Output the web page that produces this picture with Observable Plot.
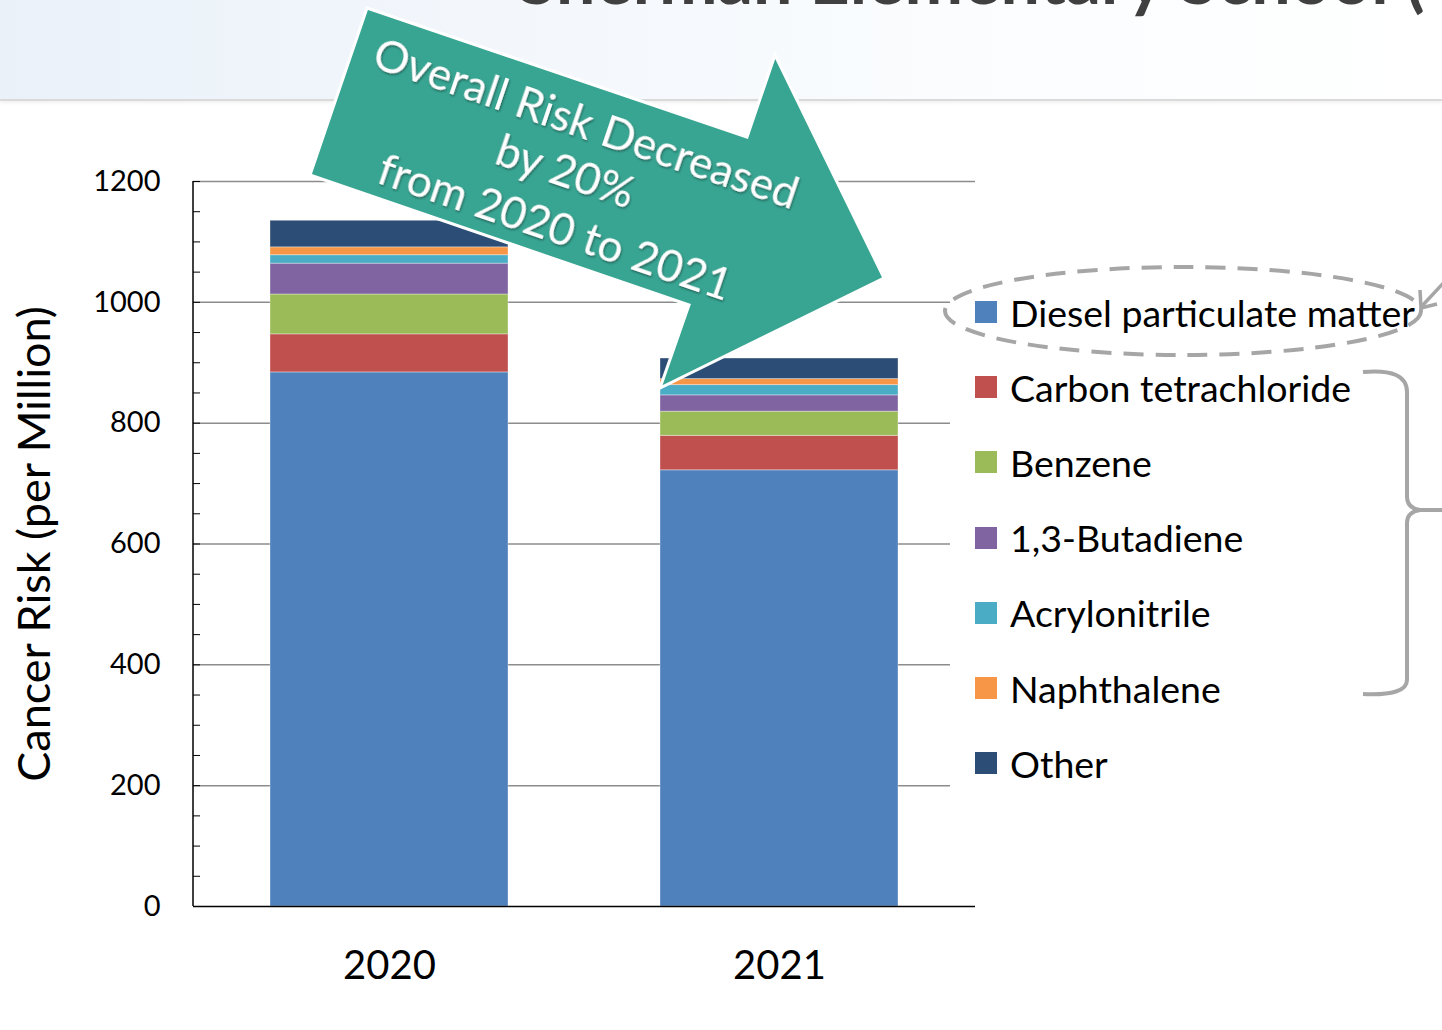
<!DOCTYPE html>
<html>
<head>
<meta charset="utf-8">
<script src="https://cdn.jsdelivr.net/npm/d3@7"></script>
<script src="https://cdn.jsdelivr.net/npm/@observablehq/plot@0.6"></script>
<style>
  html, body { margin: 0; padding: 0; background: #fff; }
  body { width: 1442px; height: 1030px; position: relative; overflow: hidden; font-family: Lato, "Open Sans", sans-serif; }
  #header { position: absolute; left: 0; top: 0; width: 1442px; height: 99px;
    background: linear-gradient(to right, #EAF1F9 0%, #F3F7FC 35%, #FBFDFE 70%, #FFFFFF 100%);
    border-bottom: 2px solid #DADADA; box-shadow: 0 2px 3px rgba(0,0,0,0.06); z-index: 0; }
  #chart { position: absolute; left: 0; top: 100px; z-index: 1; }
  #legend { position: absolute; left: 950px; top: 268px; width: 470px; height: 530px; background: #fff; z-index: 2; }
  .item { position: absolute; left: 25px; height: 40px; display: flex; align-items: center; }
  .sw { width: 22px; height: 22px; margin-right: 13px; flex: none; }
  .lab { font-family: Lato, sans-serif; font-size: 37.5px; color: #000; white-space: nowrap; }
  #overlay { position: absolute; left: 0; top: 0; z-index: 3; pointer-events: none; }
</style>
</head>
<body>
<div id="header"></div>
<div id="chart"></div>
<div id="legend"></div>
<svg id="overlay" width="1442" height="1030"></svg>
<script>
// ---- data ----
const years = ["2020", "2021"];
const pollutants = ["Diesel particulate matter", "Carbon tetrachloride", "Benzene", "1,3-Butadiene", "Acrylonitrile", "Naphthalene", "Other"];
const colors = ["#4F81BD", "#C0504D", "#9BBB59", "#8064A2", "#4BACC6", "#F79646", "#2C4D75"];
const diesel = [884, 722];
const carbonTet = [63, 57];
const benzene = [66, 40];
const butadiene = [51, 27];
const acrylonitrile = [14, 17];
const naphthalene = [13, 10];
const other = [44, 34];
const majorTicks = [0, 200, 400, 600, 800, 1000, 1200];
const minorTicks = d3.range(0, 1201, 50);
const yTitle = "Cancer Risk (per Million)";
const titleText = "Sherman Elementary School (";
const noteLines = ["Overall Risk Decreased", "by 20%", "from 2020 to 2021"];

const series = [diesel, carbonTet, benzene, butadiene, acrylonitrile, naphthalene, other];
const rows = years.flatMap((yr, i) => pollutants.map((p, j) => ({year: yr, pollutant: p, value: series[j][i]})));

const leftLine = (index, scales, values, dims) => {
  const l = document.createElementNS("http://www.w3.org/2000/svg", "line");
  const y0 = scales.y(0), y1 = scales.y(1200);
  l.setAttribute("x1", dims.marginLeft); l.setAttribute("x2", dims.marginLeft);
  l.setAttribute("y1", y1); l.setAttribute("y2", y0);
  l.setAttribute("stroke", "#000"); l.setAttribute("stroke-width", "1.5");
  return l;
};

const chart = Plot.plot({
  width: 1442, height: 930,
  marginLeft: 193, marginRight: 467, marginTop: 81, marginBottom: 124,
  style: {fontFamily: "Lato, sans-serif", background: "transparent", color: "#000", overflow: "visible"},
  x: {domain: years, paddingInner: 0.39, paddingOuter: 0.196, label: null},
  y: {domain: [0, 1200], label: null},
  color: {domain: pollutants, range: colors},
  marks: [
    Plot.gridY({ticks: majorTicks.filter(d => d > 0), stroke: "#8C8C8C", strokeOpacity: 1, strokeWidth: 1.5}),
    Plot.barY(rows, {x: "year", y: "value", fill: "pollutant", stroke: "#ffffff", strokeOpacity: 0.35, strokeWidth: 1}),
    Plot.ruleY([0], {stroke: "#000", strokeWidth: 1.5}),
    leftLine,
    Plot.axisY({ticks: minorTicks, tickSize: 7, dx: 7, tickFormat: () => "", stroke: "#000"}),
    Plot.axisY({ticks: majorTicks, tickSize: 0, tickPadding: 33, tickFormat: d => String(d), fontSize: 29, fill: "#000", label: null}),
    Plot.axisX({tickSize: 0, tickPadding: 44, fontSize: 40, fill: "#000", label: null}),
    Plot.text([yTitle], {text: d => d, frameAnchor: "left", textAnchor: "middle", dx: -158, rotate: -90, fontSize: 45, fill: "#000"})
  ]
});
document.getElementById("chart").appendChild(chart);

// ---- legend ----
const legend = document.getElementById("legend");
pollutants.forEach((p, i) => {
  const it = document.createElement("div");
  it.className = "item";
  it.style.top = (312 + i * 75.2 - 268 - 20) + "px";
  it.innerHTML = `<div class="sw" style="background:${colors[i]}"></div><div class="lab">${p}</div>`;
  legend.appendChild(it);
});

// ---- overlay annotations ----
const svg = d3.select("#overlay");
const defs = svg.append("defs");
const f = defs.append("filter").attr("id", "ts").attr("x", "-10%").attr("y", "-10%").attr("width", "120%").attr("height", "120%");
f.append("feDropShadow").attr("dx", 1.2).attr("dy", 1.2).attr("stdDeviation", 0.8).attr("flood-color", "#1d4d45").attr("flood-opacity", 0.8);

svg.append("text").attr("x", 518).attr("y", 4).attr("font-family", "Lato, sans-serif").attr("font-weight", 700)
  .attr("font-size", 70).attr("fill", "#404040").text(titleText);

svg.append("polygon")
  .attr("points", "367,8 747,137 775,55 884,278 660,388 689,305 310,175")
  .attr("fill", "#38A592").attr("stroke", "#fff").attr("stroke-width", 3).attr("stroke-linejoin", "miter");

const g = svg.append("g").attr("transform", "translate(566,170) rotate(18.75)");
const t = g.append("text").attr("font-family", "Lato, sans-serif").attr("font-size", 44).attr("fill", "#fff")
  .attr("text-anchor", "middle").attr("filter", "url(#ts)");
const offs = [[4, -52], [0, 0], [8, 56]];
noteLines.forEach((s, i) => t.append("tspan").attr("x", offs[i][0]).attr("y", offs[i][1]).attr("dominant-baseline", "central").text(s));

svg.append("ellipse").attr("cx", 1183).attr("cy", 311).attr("rx", 238).attr("ry", 44)
  .attr("fill", "none").attr("stroke", "#A6A6A6").attr("stroke-width", 4).attr("stroke-dasharray", "20 12");

svg.append("path")
  .attr("d", "M1363,372 Q1407,368 1407,392 L1407,497 Q1407,508 1420,510 Q1407,512 1407,523 L1407,680 Q1407,696 1363,694")
  .attr("fill", "none").attr("stroke", "#A6A6A6").attr("stroke-width", 4);
svg.append("path").attr("d", "M1420,510 L1442,510").attr("stroke", "#A6A6A6").attr("stroke-width", 4);

svg.append("path").attr("d", "M1448,278 L1422,306").attr("stroke", "#A6A6A6").attr("stroke-width", 3.5).attr("fill", "none");
svg.append("path").attr("d", "M1420,290 L1421,308 L1437,304").attr("stroke", "#A6A6A6").attr("stroke-width", 3.5).attr("fill", "none");
</script>
</body>
</html>
